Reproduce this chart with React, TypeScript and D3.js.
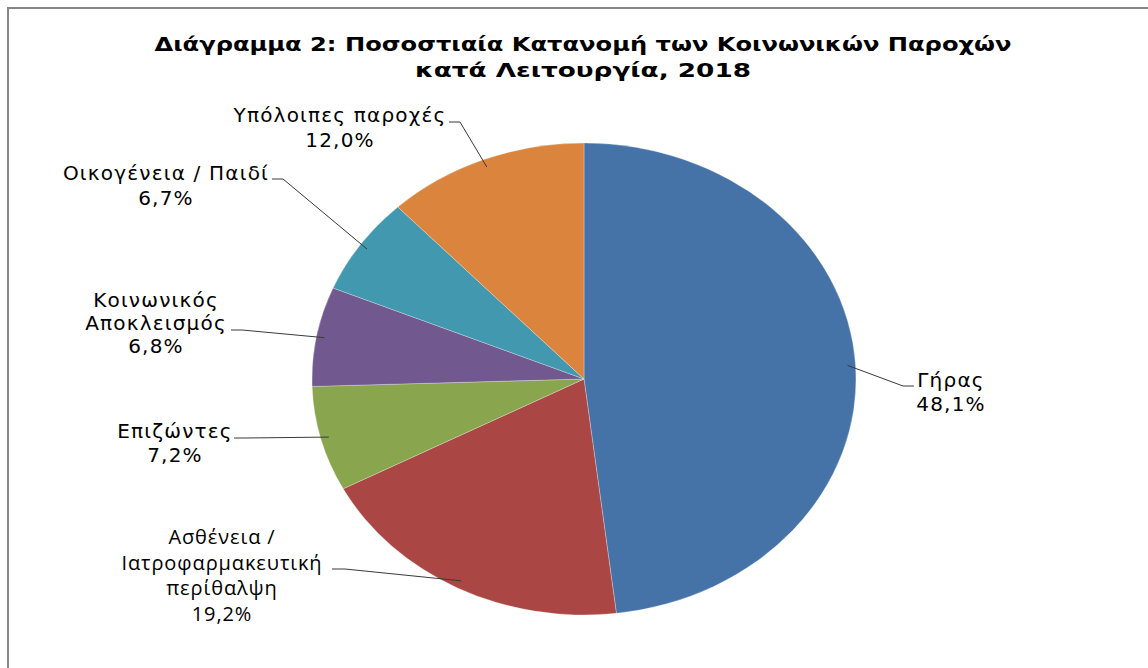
import React from "react";
import * as d3 from "d3";

const categories = [
  "Γήρας",
  "Ασθένεια / Ιατροφαρμακευτική περίθαλψη",
  "Επιζώντες",
  "Κοινωνικός Αποκλεισμός",
  "Οικογένεια / Παιδί",
  "Υπόλοιπες παροχές",
];
const values = [48.1, 19.2, 7.2, 6.8, 6.7, 12.0];
const labelLines = [
  ["Γήρας"],
  ["Ασθένεια /", "Ιατροφαρμακευτική", "περίθαλψη"],
  ["Επιζώντες"],
  ["Κοινωνικός", "Αποκλεισμός"],
  ["Οικογένεια / Παιδί"],
  ["Υπόλοιπες παροχές"],
];
const colors = ["#4572A7", "#AA4643", "#89A54E", "#71588F", "#4198AF", "#DB843D"];
const titleLines = [
  "Διάγραμμα 2: Ποσοστιαία Κατανομή των Κοινωνικών Παροχών",
  "κατά Λειτουργία, 2018",
];

// layout: label text center x, first baseline y, line height, leader bend and horizontal end, font
const labelLayout = [
  { x: 951, y: 387, lh: 24, bend: [903, 386], end: [914, 386], alt: false },
  { x: 222, y: 544, lh: 25.5, bend: [345, 569], end: [332, 569], alt: true },
  { x: 175, y: 438, lh: 24, bend: [245, 438], end: [234, 438], alt: false },
  { x: 156, y: 307, lh: 23, bend: [242, 330], end: [231, 330], alt: false },
  { x: 166, y: 180, lh: 25, bend: [283, 179], end: [272, 179], alt: false },
  { x: 340, y: 122, lh: 25, bend: [460, 122], end: [449, 122], alt: false },
];

const W = 1148;
const H = 668;
const cx = 584;
const cy = 379;
const rx = 272;
const ry = 236;

export default function App() {
  const pie = d3.pie<number>().sort(null).value((d) => d)(values);
  const arc = d3.arc<d3.PieArcDatum<number>>().innerRadius(0).outerRadius(ry);
  const sx = rx / ry;
  const fmt = (v: number) => v.toFixed(1).replace(".", ",") + "%";

  return (
    <svg
      width={W}
      height={H}
      style={{ position: "absolute", left: 0, top: 0, background: "#fff" }}
      fontFamily="'DejaVu Sans', Verdana, sans-serif"
    >
      <rect x={8} y={8} width={W + 20} height={H + 20} fill="#fff" stroke="#868686" strokeWidth={2} />
      {titleLines.map((t, i) => (
        <text
          key={i}
          x={583}
          y={51 + i * 26}
          textAnchor="middle"
          fontSize={20}
          fontWeight="bold"
          fill="#000"
          textLength={i === 0 ? 857 : 336}
          lengthAdjust="spacingAndGlyphs"
        >
          {t}
        </text>
      ))}
      <g transform={`translate(${cx},${cy}) scale(${sx},1)`}>
        {pie.map((p, i) => (
          <path
            key={i}
            d={arc(p) || ""}
            fill={colors[i]}
            stroke="#ffffff"
            strokeOpacity={0.35}
            strokeWidth={0.8}
            vectorEffect="non-scaling-stroke"
          />
        ))}
      </g>
      {pie.map((p, i) => {
        const mid = (p.startAngle + p.endAngle) / 2;
        const px = cx + (rx - 8) * Math.sin(mid);
        const py = cy - (ry - 8) * Math.cos(mid);
        const L = labelLayout[i];
        const lines = [...labelLines[i], fmt(values[i])];
        return (
          <g key={i}>
            <polyline
              points={`${px},${py} ${L.bend[0]},${L.bend[1]} ${L.end[0]},${L.end[1]}`}
              fill="none"
              stroke="#3a3a3a"
              strokeWidth={1}
            />
            {lines.map((ln, j) => (
              <text
                key={j}
                x={L.x}
                y={L.y + j * L.lh}
                textAnchor="middle"
                fontSize={20}
                fontFamily={L.alt ? "'Open Sans', 'Noto Sans', sans-serif" : undefined}
                letterSpacing={L.alt ? 0.9 : 1.2}
                fill="#000"
              >
                {ln}
              </text>
            ))}
          </g>
        );
      })}
    </svg>
  );
}
